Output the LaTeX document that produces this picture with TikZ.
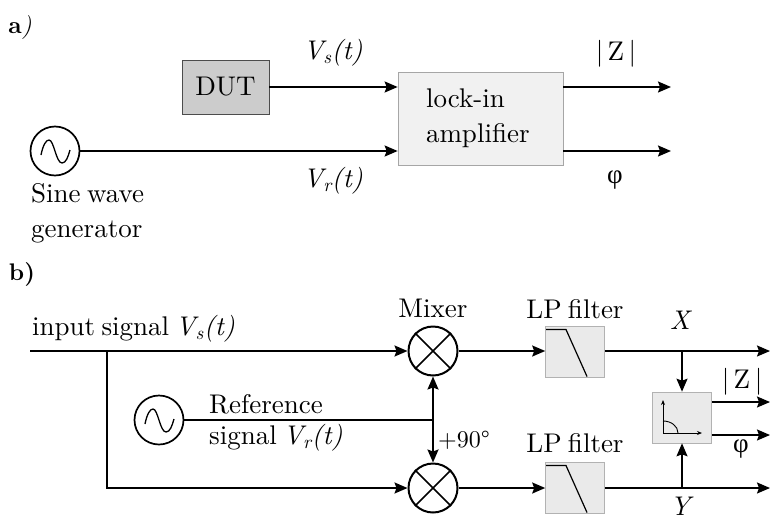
\documentclass[tikz,border=0pt]{standalone}
\usepackage{fontspec}
\setmainfont{lmroman10}[Extension=.otf,UprightFont=*-regular,BoldFont=*-bold,ItalicFont=*-italic,WordSpace=0.7]
\newfontfamily\greekfont{Liberation Serif}
\usetikzlibrary{arrows.meta}
\definecolor{dutgray}{HTML}{CCCCCC}
\definecolor{lockgray}{HTML}{F1F1F1}
\definecolor{filtgray}{HTML}{EAEAEA}
\tikzset{
  sigline/.style={line width=1.7pt},
  sigarrow/.style={line width=1.7pt,-{Stealth[length=13pt,width=11pt,inset=2pt]}},
  bothways/.style={line width=1.9pt,{Stealth[length=13pt,width=11pt,inset=2pt]}-{Stealth[length=13pt,width=11pt,inset=2pt]}},
  tinyarrow/.style={line width=1pt,-{Stealth[length=5pt,width=4pt]}},
  osc/.style={draw,circle,line width=1.7pt,minimum size=49pt,inner sep=0pt},
  mixer/.style={draw,circle,line width=2pt,minimum size=49pt,inner sep=0pt},
  filterbox/.style={draw=gray!60,fill=filtgray,line width=0.6pt,minimum width=59pt,minimum height=51pt,inner sep=0pt},
  lbl/.style={inner sep=0pt},
  partlbl/.style={inner sep=0pt,font=\fontsize{24}{30}\selectfont}
}
\newcommand{\sinewave}[1]{\draw[line width=1.3pt,shift={(#1)}] (-14,4) .. controls (-12,-6) and (-9,-11) .. (-6,-11) .. controls (-1,-11) and (1,12) .. (7,12) .. controls (11,12) and (13,6) .. (15,-1);}
\newcommand{\lowpass}[1]{\draw[line width=1.2pt,shift={(#1)}] (-29,-22) -- (-9,-22) -- (12,25);}
\begin{document}
\begin{tikzpicture}[x=1pt,y=-1pt,font=\fontsize{27}{35}\selectfont]
\useasboundingbox (0,0) rectangle (770,522);

% part a
\node[partlbl] (laba) at (20,27) {\textbf{a}\textit{)}};
\node[osc] (gena) at (55,151) {};
\sinewave{gena}
\node[draw=black!70,fill=dutgray,line width=0.7pt,minimum width=87pt,minimum height=54pt,inner sep=0pt] (dut) at (225.5,87) {DUT};
\node[draw=gray!70,fill=lockgray,line width=0.7pt,minimum width=165pt,minimum height=93pt,inner xsep=24pt,inner ysep=0pt,text width=117pt,align=left] (lockin) at (480.5,118.5) {\hspace{4pt}lock-in\\\hspace{4pt}amplifier};
\coordinate (outz) at (671,87);
\coordinate (outp) at (671,151);

\draw[sigarrow] (dut.east) -- (dut.east -| lockin.west);
\draw[sigarrow] (gena.east) -- (gena.east -| lockin.west);
\draw[sigarrow] (lockin.east |- outz) -- (outz);
\draw[sigarrow] (lockin.east |- outp) -- (outp);

\node[lbl] (vsa) at (333,53) {\textit{V\textsubscript{s}(t)}};
\node[lbl] (vra) at (333,181) {\textit{V\textsubscript{r}(t)}};
\node[lbl] (za) at (616,54) {|\,Z\,|};
\node[lbl] (pa) at (615,180) {\greekfont φ};
\node[lbl,anchor=north west,align=left] (gentxt) at (31,183) {Sine wave\\generator};

% part b
\node[partlbl] (labb) at (22,274) {\textbf{b)}};
\node[lbl,anchor=west] (intxt) at (32,329) {input signal \textit{V\textsubscript{s}(t)}};
\node[mixer] (mixa) at (433,351) {};
\node[mixer] (mixb) at (433,488) {};
\draw[line width=1.7pt] (mixa.45) -- (mixa.225) (mixa.135) -- (mixa.315);
\draw[line width=1.7pt] (mixb.45) -- (mixb.225) (mixb.135) -- (mixb.315);
\node[lbl] (mixtxt) at (433,308) {Mixer};
\node[osc] (refosc) at (159,420) {};
\sinewave{refosc}
\node[filterbox] (lpa) at (575,351.5) {};
\node[filterbox] (lpb) at (575,487.5) {};
\lowpass{lpa}
\lowpass{lpb}
\node[lbl] (lpatxt) at (575,309) {LP filter};
\node[lbl] (lpbtxt) at (575,443) {LP filter};
\node[filterbox,minimum height=51pt] (polar) at (682,417.5) {};
\coordinate (org) at (663,433);
\draw[tinyarrow] (org) -- +(0,-33);
\draw[tinyarrow] (org) -- +(39,0);
\draw[line width=0.9pt] (663,421) .. controls (671,421) and (678,426) .. (678,433);

\coordinate (instart) at (30,351);
\coordinate (brtop) at (107,351);
\coordinate (jxa) at (682,351);
\coordinate (jxb) at (682,488);
\coordinate (endx) at (770,351);
\coordinate (endy) at (770,488);
\coordinate (endz) at (770,402);
\coordinate (endp) at (770,435);
\coordinate (refjoin) at (433,420);

\draw[sigarrow] (instart) -- (mixa.west);
\draw[sigarrow] (brtop) |- (mixb.west);
\draw[sigline] (refosc.east) -- (refjoin);
\draw[bothways] (mixa.south) -- (mixb.north);
\draw[sigarrow] (mixa.east) -- (lpa.west |- mixa);
\draw[sigarrow] (mixb.east) -- (lpb.west |- mixb);
\draw[sigarrow] (lpa.east |- mixa) -- (endx);
\draw[sigarrow] (lpb.east |- mixb) -- (endy);
\draw[sigarrow] (jxa) -- (polar.north);
\draw[sigarrow] (jxb) -- (polar.south);
\draw[sigarrow] (polar.east |- endz) -- (endz);
\draw[sigarrow] (polar.east |- endp) -- (endp);

\node[lbl,anchor=west] (reftxt) at (209,404) {Reference};
\node[lbl,anchor=west] (sigtxt) at (209,438) {signal \textit{V\textsubscript{r}(t)}};
\node[lbl,font=\fontsize{24}{30}\selectfont] (deg) at (464,440) {+90°};
\node[lbl] (xtxt) at (681,320) {\textit{X}};
\node[lbl,anchor=north] (ytxt) at (682,497) {\textit{Y}};
\node[lbl] (zb) at (742,382) {|\,Z\,|};
\node[lbl] (pb) at (741,449) {\greekfont φ};
\end{tikzpicture}
\end{document}
